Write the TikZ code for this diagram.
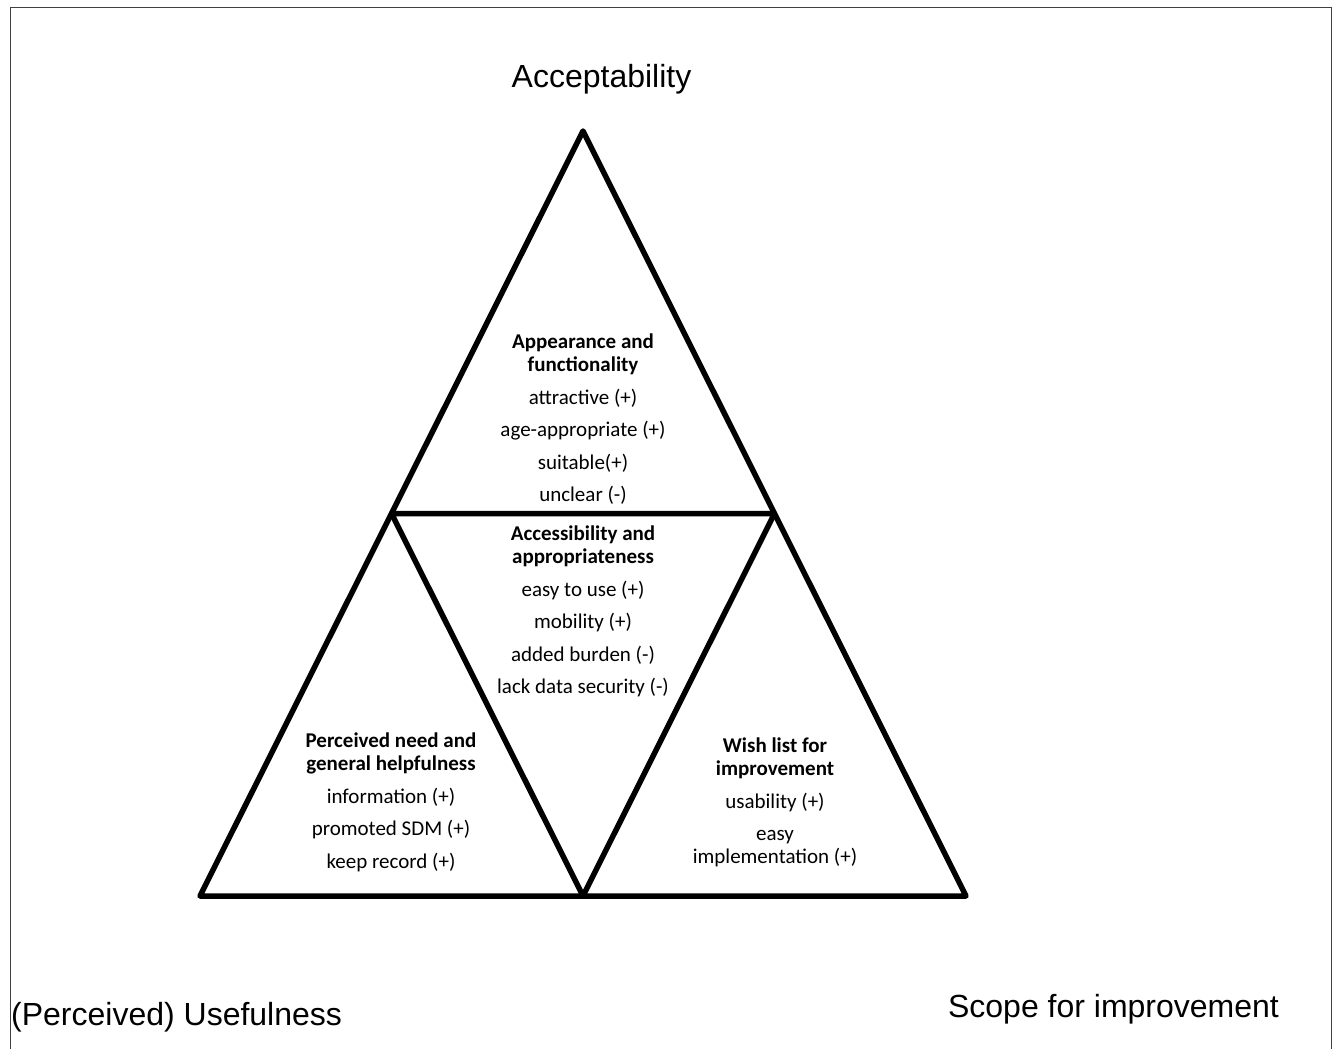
\documentclass[tikz,border=0pt]{standalone}
\usepackage{fontspec}
\setmainfont{Carlito}
\newfontfamily\arialfont{Liberation Sans}
\usetikzlibrary{positioning}
\usetikzlibrary{calc}
\tikzset{
  side/.style={line width=5.5pt, line join=round},
  frame/.style={line width=1pt, black!75},
  corner/.style={font=\arialfont\fontsize{32}{36}\selectfont, inner sep=0pt},
  block/.style={align=center, inner sep=0pt, font=\fontsize{21}{23}\selectfont},
}

\begin{document}
\begin{tikzpicture}[x=1pt, y=-1pt]
  \useasboundingbox (0,0) rectangle (1334,1049);

  % Frame, open at the bottom
  \draw[frame] (10,1049) -- (10,8) -- (1331,8) -- (1331,1049);

  % Corners of the triangle
  \coordinate (apex) at (583,131);
  \coordinate (bl) at (200,896);
  \coordinate (br) at (966,896);
  \coordinate (ml) at ($(apex)!0.5!(bl)$);
  \coordinate (mr) at ($(apex)!0.5!(br)$);
  \coordinate (mb) at ($(bl)!0.5!(br)$);

  % Outer and inner triangles
  \draw[side] (apex) -- (bl) -- (br) -- cycle;
  \draw[side] (ml) -- (mr) -- (mb) -- cycle;

  % Corner labels
  \node[corner, anchor=base] (accept) at (601.5,88) {Acceptability};
  \node[corner, anchor=base west] (useful) at (11,1025) {(Perceived) Usefulness};
  \node[corner, anchor=base] (scope) at (1113.5,1017) {Scope for improvement};

  % Themes
  \node[block, anchor=north] (look) at (583,334) {\textbf{Appearance and}\\\textbf{functionality}\\[9.5pt]
    attractive (+)\\[9.5pt] age-appropriate (+)\\[9.5pt] suitable(+)\\[9.5pt] unclear (-)};
  \node[block, anchor=north] (access) at (583,526) {\textbf{Accessibility and}\\\textbf{appropriateness}\\[9.5pt]
    easy to use (+)\\[9.5pt] mobility (+)\\[9.5pt] added burden (-)\\[9.5pt] lack data security (-)};
  \node[block, anchor=north] (need) at (391,733) {\textbf{Perceived need and}\\\textbf{general helpfulness}\\[9.5pt]
    information (+)\\[9.5pt] promoted SDM (+)\\[9.5pt] keep record (+)};
  \node[block, anchor=north] (wish) at (775,738) {\textbf{Wish list for}\\\textbf{improvement}\\[9.5pt]
    usability (+)\\[9.5pt] easy\\implementation (+)};
\end{tikzpicture}
\end{document}
